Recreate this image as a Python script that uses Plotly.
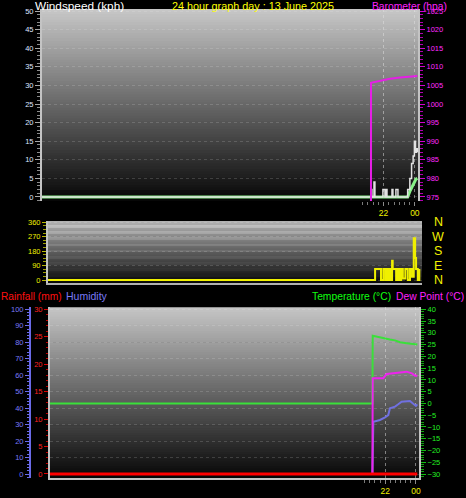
import plotly.graph_objects as go

W, H = 466, 498

# ---------------- data (time in hours of day, 24 = midnight) ----------------
gust_time = [0.2, 21.20, 21.26, 21.39, 21.45, 21.96, 22.09, 22.15, 22.22, 22.54, 22.60,
             22.79, 22.92, 23.54, 23.68, 23.79, 23.89, 23.97, 24.04, 24.10, 24.16]
gust_kph = [0, 2, 0, 4, 0, 2, 0, 2, 0, 2, 0, 2, 0, 2, 5, 9, 11, 15, 12, 13, 12]

avg_time = [0.2, 23.54, 23.68, 23.79, 23.89, 23.97, 24.07, 24.16]
avg_kph = [0, 0, 1.5, 2.5, 3.5, 4.3, 4.8, 5.0]

baro_time = [0.2, 21.19, 21.20, 21.77, 22.41, 23.05, 23.68, 24.16]
baro_hpa = [0, 0, 1005.7, 1006.3, 1006.8, 1007.1, 1007.4, 1007.5]

dir_time = [0.2, 21.19, 21.57, 21.72, 21.85, 21.94, 22.02, 22.11, 22.22, 22.28, 22.32,
            22.54, 22.65, 22.75, 22.86, 22.97, 23.13, 23.29, 23.43, 23.56, 23.67,
            23.76, 23.82, 23.93, 24.03]
dir_deg = [0, 68, 0, 68, 0, 68, 0, 68, 0, 120, 68, 0, 68, 0, 68, 10, 68, 0, 68, 20,
           260, 137, 68, 0, 68]

temp_time = [0.2, 21.17, 21.19, 21.55, 21.99, 22.31, 22.64, 22.96, 23.40, 23.83, 24.09]
temp_c = [0, 0, 28.8, 28.2, 27.6, 27.2, 26.8, 26.0, 25.6, 25.4, 25.0]

dew_time = [0.2, 21.17, 21.19, 21.88, 22.10, 22.75, 23.40, 23.73, 23.94, 24.09]
dew_c = [-30, -30, 10.7, 10.7, 12.5, 13.0, 13.5, 12.8, 11.8, 11.8]

hum_time = [0.2, 21.17, 21.23, 21.66, 21.99, 22.20, 22.31, 22.64, 22.85, 23.07, 23.61,
            23.83, 24.00, 24.09]
hum_pct = [0, 0, 31.7, 32.8, 34.4, 35.8, 39.9, 40.9, 42.3, 43.9, 44.3, 42.9, 41.3, 42.3]

rain_time = [0.2, 24.09]
rain_mm = [0, 0]

x_tick_vals = [22, 24]
x_tick_text = ["22", "00"]
x_minor_vals = [20.67, 21.0, 21.33, 21.67, 22.0, 22.33, 22.67, 23.0, 23.33, 23.67, 24.0]
dir_tick_vals = [0, 90, 180, 270, 360]
dir_tick_text = ["N", "E", "S", "W", "N"]

title_text = "24 hour graph day : 13 June 2025"

# ---------------- helpers ----------------
FONT = "Liberation Sans"


def px(p):
    return p / W


def py(p):
    return 1 - p / H


YEL = "#f0f000"
BORDER = "#c4c4c4"
GRID = "rgba(235,235,235,0.17)"

fig = go.Figure()

# top panel
fig.add_trace(go.Scatter(x=avg_time, y=avg_kph, mode="lines", xaxis="x", yaxis="y",
                         line=dict(color="#86f086", width=3)))
fig.add_trace(go.Scatter(x=gust_time, y=gust_kph, mode="lines", xaxis="x", yaxis="y",
                         line=dict(color="#e2e2e2", width=1.5, shape="hv")))
fig.add_trace(go.Scatter(x=baro_time, y=baro_hpa, mode="lines", xaxis="x", yaxis="y2",
                         line=dict(color="#e61ee6", width=2)))
# middle panel
fig.add_trace(go.Scatter(x=dir_time, y=dir_deg, mode="lines", xaxis="x2", yaxis="y3",
                         line=dict(color=YEL, width=2, shape="hv")))
# bottom panel (humidity is the base axis y5)
fig.add_trace(go.Scatter(x=hum_time, y=hum_pct, mode="lines", xaxis="x3", yaxis="y5",
                         line=dict(color="#7070e0", width=2)))
fig.add_trace(go.Scatter(x=temp_time, y=temp_c, mode="lines", xaxis="x3", yaxis="y6",
                         line=dict(color="#3ae03a", width=2)))
fig.add_trace(go.Scatter(x=dew_time, y=dew_c, mode="lines", xaxis="x3", yaxis="y6",
                         line=dict(color="#ee22ee", width=2)))
fig.add_trace(go.Scatter(x=rain_time, y=rain_mm, mode="lines", xaxis="x3", yaxis="y7",
                         line=dict(color="#ff0000", width=3)))

# gradient backgrounds
shapes = []


def gradient(xref, yref, top, bot, n=72):
    for i in range(n):
        t = (i + 0.5) / n
        c = [int(round(b + (tp - b) * t)) for tp, b in zip(top, bot)]
        shapes.append(dict(type="rect", xref=xref, yref=yref, x0=0, x1=1,
                           y0=i / n, y1=min(1, (i + 1.3) / n),
                           fillcolor="rgb(%d,%d,%d)" % tuple(c),
                           line=dict(width=0), layer="below"))


gradient("x domain", "y domain", (200, 200, 200), (6, 6, 6))
gradient("x2 domain", "y3 domain", (205, 205, 205), (8, 8, 8))
gradient("x3 domain", "y5 domain", (198, 198, 198), (6, 6, 6))


def tf(color, size=7.5):
    return dict(color=color, size=size, family=FONT)


xcommon = dict(range=[0.2, 24.2], zeroline=False, automargin=False,
               tickvals=x_tick_vals, ticktext=x_tick_text, tickfont=tf(YEL, 8.5),
               ticks="outside", ticklen=4, tickcolor="#8a8a8a",
               minor=dict(tickvals=x_minor_vals, ticks="outside", ticklen=3,
                          tickcolor="#7a7a7a", showgrid=False),
               showgrid=True, gridcolor="rgba(225,225,225,0.5)", griddash="dot",
               gridwidth=1, fixedrange=True)

bot_dom = [py(478), py(307.3)]

layout = dict(
    width=W, height=H, margin=dict(l=0, r=0, t=0, b=0, pad=0),
    paper_bgcolor="black", plot_bgcolor="rgba(0,0,0,0)",
    showlegend=False, font=dict(family=FONT), hovermode=False,
    shapes=shapes,
    xaxis=dict(domain=[px(42), px(418)], anchor="y", showline=False, **xcommon),
    yaxis=dict(domain=[py(201), py(9)], anchor="x", range=[-1.08, 50.54],
               tick0=0, dtick=5, tickfont=tf("#dfe6ff"), ticks="outside",
               ticklen=5, tickcolor="#a8a8a8",
               minor=dict(dtick=1, tick0=0, ticks="outside", ticklen=3, tickcolor="#8c8c8c"),
               showline=True, linecolor=BORDER, linewidth=2, showgrid=True,
               gridcolor=GRID, griddash="dot", zeroline=False, automargin=False),
    yaxis2=dict(overlaying="y", side="right", anchor="x", range=[973.92, 1025.54],
                tick0=975, dtick=5, tickfont=tf("#ff2aff"), ticks="outside",
                ticklen=5, tickcolor="#d000d0",
                minor=dict(dtick=1, tick0=975, ticks="outside", ticklen=3, tickcolor="#b000b0"),
                showline=True, linecolor=BORDER, linewidth=2, showgrid=False,
                zeroline=False, automargin=False),
    xaxis2=dict(domain=[px(48), px(422)], anchor="y3", range=[0.2, 24.2],
                showticklabels=False, ticks="", showgrid=False, zeroline=False,
                showline=True, linecolor="#b0b0b0", linewidth=2, automargin=False),
    yaxis3=dict(domain=[py(283), py(221)], anchor="x2", range=[-18.7, 368.1],
                tick0=0, dtick=90, tickfont=tf(YEL), ticks="outside", ticklen=4,
                tickcolor="#b8b800",
                minor=dict(dtick=22.5, tick0=0, ticks="outside", ticklen=3, tickcolor="#a0a000"),
                showline=True, linecolor=BORDER, linewidth=2, showgrid=True,
                gridcolor=GRID, griddash="dot", zeroline=False, automargin=False),
    xaxis3=dict(domain=[px(50), px(419)], anchor="y5", showline=True,
                linecolor=BORDER, linewidth=2, **xcommon),
    yaxis5=dict(domain=bot_dom, anchor="free", position=px(30), side="left",
                range=[-2.43, 101.2], tick0=0, dtick=10, tickfont=tf("#7a7af5"),
                ticks="outside", ticklen=4, tickcolor="#6a6ae8",
                minor=dict(dtick=2, tick0=0, ticks="outside", ticklen=2, tickcolor="#6a6ae8"),
                showline=True, linecolor="#6a6ae8", linewidth=2, showgrid=True,
                gridcolor=GRID, griddash="dot", zeroline=False, automargin=False),
    yaxis6=dict(overlaying="y5", domain=bot_dom, anchor="x3", side="right",
                range=[-31.7, 40.85], tick0=0, dtick=5, tickfont=tf("#22ee22"),
                ticks="outside", ticklen=5, tickcolor="#10c010",
                minor=dict(dtick=1, tick0=0, ticks="outside", ticklen=3, tickcolor="#10a010"),
                showline=True, linecolor=BORDER, linewidth=2, showgrid=False,
                zeroline=False, automargin=False),
    yaxis7=dict(overlaying="y5", domain=bot_dom, anchor="x3", side="left",
                range=[-0.73, 30.36],
                tick0=0, dtick=5, tickfont=tf("#ff2020"), ticks="outside", ticklen=4,
                tickcolor="#e00000",
                minor=dict(dtick=1, tick0=0, ticks="outside", ticklen=2, tickcolor="#c00000"),
                showline=True, linecolor=BORDER, linewidth=2, showgrid=False,
                zeroline=False, automargin=False),
)


def ann(text, x, y, color, anchor="left", size=11, yanchor="middle"):
    return dict(text=text, x=px(x), y=py(y), xref="paper", yref="paper",
                xanchor=anchor, yanchor=yanchor, showarrow=False, borderpad=0,
                font=dict(color=color, size=size, family=FONT))


anns = [
    ann("Windspeed (kph)", 34, 6, "#ffffff", size=11.8),
    ann(title_text, 171, 6, "#ffff00", size=10.8),
    ann("Barometer (hpa)", 448, 0, "#ff20ff", anchor="right", size=10.3, yanchor="top"),
    ann("Rainfall (mm)", 0, 296, "#ff1010", size=10.2),
    ann("Humidity", 65, 296, "#7a7af8", size=10.5),
    ann("Temperature (°C)", 311, 296, "#10ff10", size=10.3),
    ann("Dew Point (°C)", 465, 296, "#ff20ff", anchor="right", size=10.3),
]
# compass labels on the right of the wind-direction panel, placed on its own scale
for v, t in zip(dir_tick_vals, dir_tick_text):
    anns.append(dict(text=t, x=1.043, y=v, xref="x2 domain", yref="y3",
                     xanchor="center", yanchor="middle", showarrow=False,
                     font=dict(color=YEL, size=12.5, family=FONT)))
layout["annotations"] = anns

fig.update_layout(layout)
fig.write_html("out.html", config={"displayModeBar": False, "staticPlot": True},
               post_script="document.body.style.margin='0';")
